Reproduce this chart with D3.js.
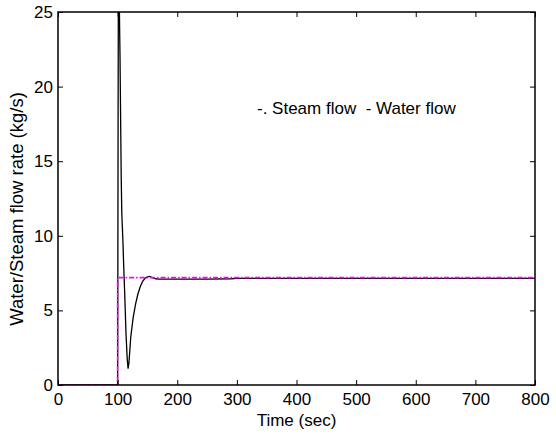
<!DOCTYPE html>
<html><head><meta charset="utf-8">
<script src="https://cdn.jsdelivr.net/npm/d3@7"></script>
<style>body{margin:0;background:#fff}svg{font-family:"Liberation Sans",Arial,sans-serif}</style>
</head><body>
<svg id="c" width="556" height="437"></svg>
<script>
const xTicks = [0,100,200,300,400,500,600,700,800];
const yTicks = [0,5,10,15,20,25];
const waterTime = [0,100,100.4,100.8,101.2,102,103,104,105,106,107,108,109,110,112,114,116,117.5,119,122,126,130,134,138,142,146,150,154,158,164,170,180,200,250,290,300,400,500,600,700,800];
const waterFlow = [0,0,8,18,25.5,27,25,22,18,14,11.5,10.5,9.5,8.2,6,3.5,1.8,1.1,1.5,3.2,4.5,5.4,6.1,6.6,6.95,7.15,7.25,7.28,7.2,7.12,7.1,7.1,7.1,7.1,7.12,7.15,7.15,7.15,7.15,7.15,7.15];
const steamTime = [0,100,100,800];
const steamFlow = [0,0,7.2,7.2];

const svg = d3.select("#c");
const m = {l:58, r:535, t:12, b:385};
const x = d3.scaleLinear().domain([0,800]).range([m.l,m.r]);
const y = d3.scaleLinear().domain([0,25]).range([m.b,m.t]);

svg.append("defs").append("clipPath").attr("id","clip")
  .append("rect").attr("x",m.l).attr("y",m.t).attr("width",m.r-m.l).attr("height",m.b-m.t);

const g = svg.append("g").attr("clip-path","url(#clip)");
const line = d3.line().x(d=>x(d[0])).y(d=>y(d[1]));
g.append("path").datum(waterTime.map((t,i)=>[t,waterFlow[i]]))
  .attr("d",line).attr("fill","none").attr("stroke","#000").attr("stroke-width",1.3);
g.append("path").datum(steamTime.map((t,i)=>[t,steamFlow[i]]))
  .attr("d",line).attr("fill","none").attr("stroke","#ff00ff").attr("stroke-width",1.6)
  .attr("stroke-dasharray","5,2,1.5,2");

// frame
svg.append("rect").attr("x",m.l).attr("y",m.t).attr("width",m.r-m.l).attr("height",m.b-m.t)
  .attr("fill","none").attr("stroke","#000").attr("stroke-width",1.5);

const xa = svg.append("g").attr("transform",`translate(0,${m.b})`)
  .call(d3.axisBottom(x).tickValues(xTicks).tickSize(-5).tickPadding(8).tickFormat(d3.format("d")));
const xa2 = svg.append("g").attr("transform",`translate(0,${m.t})`)
  .call(d3.axisTop(x).tickValues(xTicks).tickSize(-5).tickFormat(""));
const ya = svg.append("g").attr("transform",`translate(${m.l},0)`)
  .call(d3.axisLeft(y).tickValues(yTicks).tickSize(-5).tickPadding(5).tickFormat(d3.format("d")));
const ya2 = svg.append("g").attr("transform",`translate(${m.r},0)`)
  .call(d3.axisRight(y).tickValues(yTicks).tickSize(-5).tickFormat(""));
[xa,xa2,ya,ya2].forEach(a=>{
  a.select(".domain").remove();
  a.selectAll("text").attr("font-size",17).attr("fill","#000").attr("font-family","Liberation Sans, Arial, sans-serif");
  a.selectAll("line").attr("stroke","#000");
});

svg.append("text").attr("x",(m.l+m.r)/2).attr("y",426).attr("text-anchor","middle")
  .attr("font-size",17).text("Time (sec)");
svg.append("text").attr("transform",`translate(23,${209}) rotate(-90)`)
  .attr("text-anchor","middle").attr("font-size",18.5).text("Water/Steam flow rate (kg/s)");
svg.append("text").attr("x",257).attr("y",114).attr("font-size",17).text("-. Steam flow  - Water flow")
  .attr("xml:space","preserve").style("white-space","pre");
</script>
</body></html>
